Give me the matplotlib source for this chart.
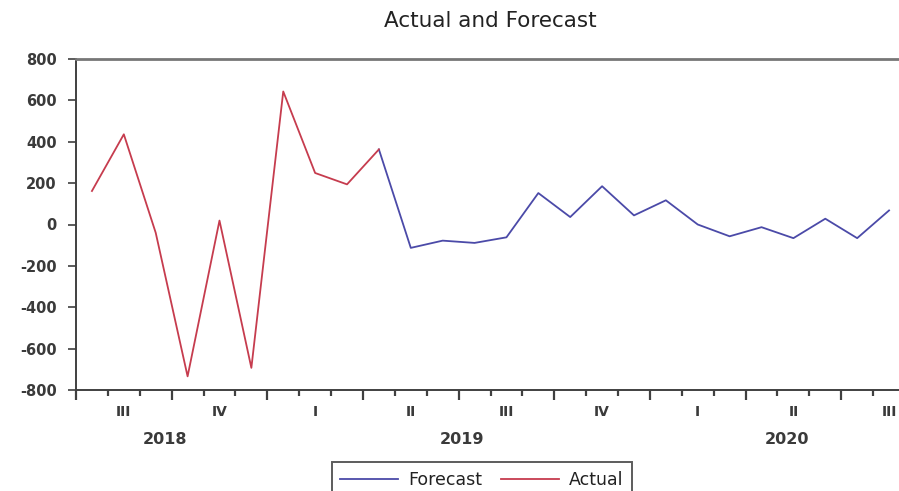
"""Actual vs forecast, monthly, Jul 2018 - Aug 2020, EViews-style layout."""

import matplotlib.pyplot as plt
from matplotlib.ticker import FixedLocator, NullFormatter

plt.rcParams["font.family"] = ["DejaVu Sans"]

# monthly series, first value is July 2018
actual = [162, 436, -40, -734, 19, -693, 643, 249, 194, 363]
forecast = [363, -113, -78, -89, -62, 152, 36, 185, 44, 117, 0, -57, -13, -66, 28, -66, 68]
forecast_start = 9  # April 2019 links the two lines

quarter_labels = ["III", "IV", "I", "II", "III", "IV", "I", "II", "III"]
year_labels = ["2018", "2019", "2020"]
year_centers = [2.8, 12.1, 22.3]  # in months from Jul 2018
y_ticks = [-800, -600, -400, -200, 0, 200, 400, 600, 800]

RED = "#c63c4e"
BLUE = "#4b4aa8"
FRAME = "#404040"
TEXT = "#3a3a3a"

fig = plt.figure(figsize=(8.99, 4.91), dpi=100)
W, H = 899, 491
# the plot frame runs on past the right edge of the figure
ax = fig.add_axes([76 / W, 1 - 390 / H, (905 - 76) / W, (390 - 59) / H])

x_act = [i + 0.5 for i in range(len(actual))]
x_fc = [forecast_start + i + 0.5 for i in range(len(forecast))]
ax.plot(x_fc, forecast, color=BLUE, lw=1.3, label="Forecast")
ax.plot(x_act, actual, color=RED, lw=1.3, label="Actual")

ax.set_xlim(0, 26)
ax.set_ylim(-800, 800)

ax.set_yticks(y_ticks)
ax.set_yticklabels([str(v) for v in y_ticks], fontsize=10.5, fontweight="bold")
ax.tick_params(axis="y", direction="out", length=6, width=1.2, pad=8,
               colors=FRAME, labelcolor=TEXT)

# quarter boundaries as major ticks, month boundaries as minor ticks
ax.xaxis.set_major_locator(FixedLocator(list(range(0, 27, 3))))
ax.xaxis.set_minor_locator(FixedLocator([m for m in range(27) if m % 3]))
ax.xaxis.set_major_formatter(NullFormatter())
ax.tick_params(axis="x", which="major", direction="out", length=7, width=1.6, colors=FRAME)
ax.tick_params(axis="x", which="minor", direction="out", length=4, width=1.6, colors=FRAME)

for q, lab in enumerate(quarter_labels):
    ax.text(q * 3 + 1.5, -0.066, lab, transform=ax.get_xaxis_transform(),
            ha="center", va="center", fontsize=10, fontweight="bold", color=TEXT)
for c, lab in zip(year_centers, year_labels):
    ax.text(c, -0.15, lab, transform=ax.get_xaxis_transform(),
            ha="center", va="center", fontsize=11.5, fontweight="bold", color=TEXT)

for side in ("left", "bottom"):
    ax.spines[side].set_color(FRAME)
    ax.spines[side].set_linewidth(1.4)
ax.spines["top"].set_color("#777777")
ax.spines["top"].set_linewidth(2.0)
ax.spines["right"].set_visible(False)

fig.text(490 / W, 1 - 21 / H, "Actual and Forecast", ha="center", va="center",
         fontsize=15.5, color="#222222")

leg = fig.legend(loc="upper center", bbox_to_anchor=(482 / W, 1 - 462 / H), ncol=2,
                 frameon=True, fancybox=False, fontsize=12.5, handlelength=3.3,
                 handletextpad=0.6, columnspacing=1.1, borderpad=0.5, borderaxespad=0)
for text in leg.get_texts():
    text.set_color("#222222")
leg.get_frame().set_edgecolor("#333333")
leg.get_frame().set_linewidth(1.4)

fig.savefig("out.png", dpi=100)
